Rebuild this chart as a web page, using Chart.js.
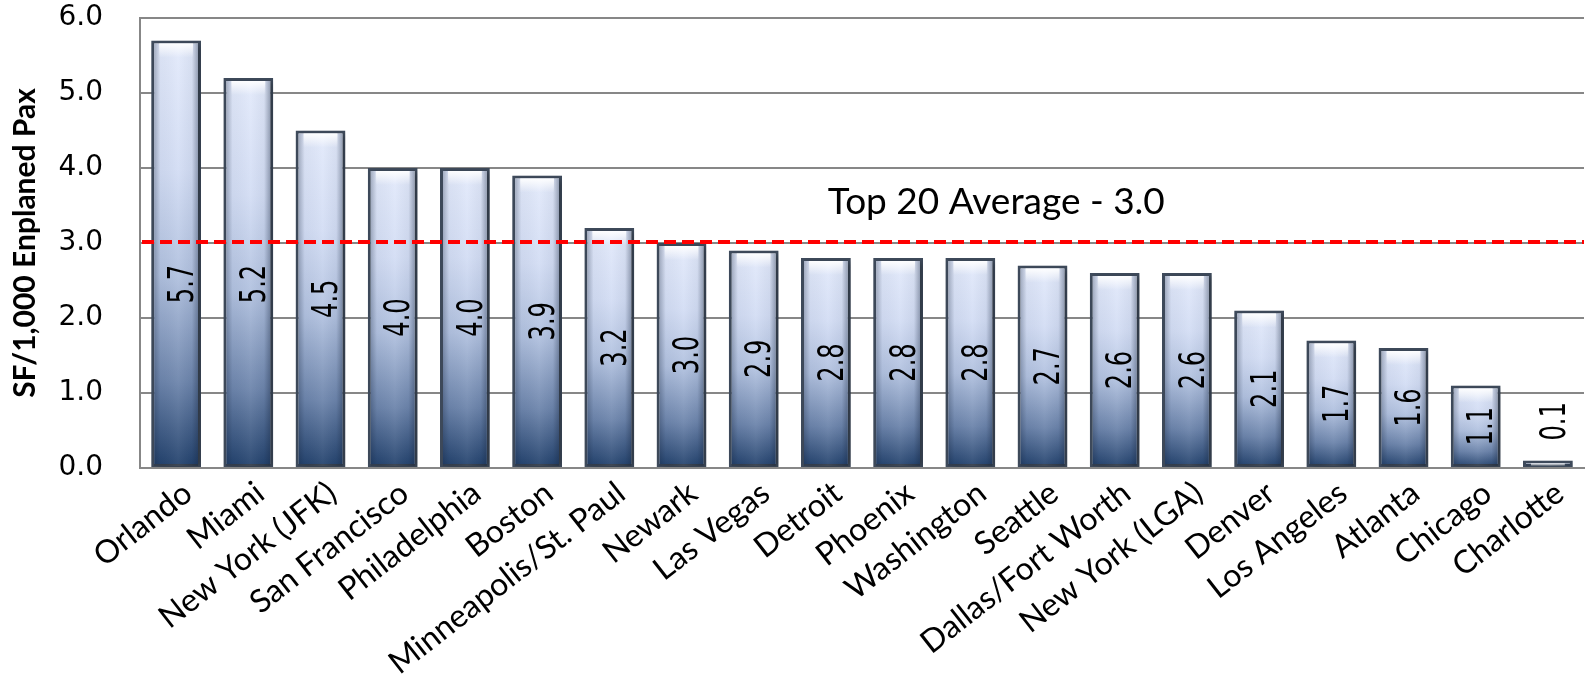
<!DOCTYPE html>
<html>
<head>
<meta charset="utf-8">
<title>Airport space per 1,000 enplaned passengers</title>
<script src="https://cdn.jsdelivr.net/npm/chart.js@4.4.1/dist/chart.umd.min.js"></script>
<style>
  html, body { margin: 0; padding: 0; background: #ffffff; }
  #wrap { width: 1585px; height: 694px; position: relative; }
  canvas { display: block; }
</style>
</head>
<body>
<div id="wrap"><canvas id="chart" width="1585" height="694"></canvas></div>
<script>
// Airports, ranked by square feet per 1,000 enplaned passengers
const airports = [
  'Orlando', 'Miami', 'New York (JFK)', 'San Francisco', 'Philadelphia',
  'Boston', 'Minneapolis/St. Paul', 'Newark', 'Las Vegas', 'Detroit',
  'Phoenix', 'Washington', 'Seattle', 'Dallas/Fort Worth', 'New York (LGA)',
  'Denver', 'Los Angeles', 'Atlanta', 'Chicago', 'Charlotte'
];
const sfPerThousandPax = [
  5.7, 5.2, 4.5, 4.0, 4.0,
  3.9, 3.2, 3.0, 2.9, 2.8,
  2.8, 2.8, 2.7, 2.6, 2.6,
  2.1, 1.7, 1.6, 1.1, 0.1
];
const top20Average = 3.0;
const yTickValues = [0, 1, 2, 3, 4, 5, 6];

// Vertical body gradient for one bar, running from its top to the baseline
function barGradient(context) {
  const chart = context.chart;
  if (!chart.chartArea || !chart.scales.y) return '#a9bbda';
  const yScale = chart.scales.y;
  const top = yScale.getPixelForValue(context.raw);
  const base = yScale.getPixelForValue(0);
  const g = chart.ctx.createLinearGradient(0, top, 0, base);
  g.addColorStop(0.00, '#e3eafb');
  g.addColorStop(0.30, '#d3ddf4');
  g.addColorStop(0.55, '#b1c1df');
  g.addColorStop(0.80, '#6c84ab');
  g.addColorStop(1.00, '#21406b');
  return g;
}

// Soft drop shadow behind the bars
const barShadow = {
  id: 'barShadow',
  beforeDatasetsDraw(chart) {
    const ctx = chart.ctx;
    ctx.save();
    ctx.shadowColor = 'rgba(0,0,0,0.28)';
    ctx.shadowBlur = 6;
    ctx.shadowOffsetX = 3;
    ctx.shadowOffsetY = 2;
  },
  afterDatasetsDraw(chart) {
    chart.ctx.restore();
  }
};

// Rounded sheen: darker side edges plus a bright glow under the top edge
const barSheen = {
  id: 'barSheen',
  afterDatasetsDraw(chart) {
    const ctx = chart.ctx;
    const meta = chart.getDatasetMeta(0);
    meta.data.forEach((bar) => {
      const p = bar.getProps(['x', 'y', 'base', 'width'], true);
      const inset = 3;
      const left = p.x - p.width / 2 + inset;
      const right = p.x + p.width / 2 - inset;
      const top = p.y + inset;
      const bottom = p.base - 1;
      const w = right - left;
      const h = bottom - top;
      if (h <= 0) return;
      ctx.save();
      const side = ctx.createLinearGradient(left, 0, right, 0);
      side.addColorStop(0.00, 'rgba(20,35,60,0.30)');
      side.addColorStop(0.14, 'rgba(20,35,60,0.04)');
      side.addColorStop(0.55, 'rgba(255,255,255,0.06)');
      side.addColorStop(0.86, 'rgba(20,35,60,0.05)');
      side.addColorStop(1.00, 'rgba(20,35,60,0.36)');
      ctx.fillStyle = side;
      ctx.fillRect(left, top, w, h);
      const glowH = Math.min(14, h);
      const glow = ctx.createLinearGradient(0, top, 0, top + glowH);
      glow.addColorStop(0, 'rgba(255,255,255,0.95)');
      glow.addColorStop(1, 'rgba(255,255,255,0)');
      ctx.fillStyle = glow;
      ctx.fillRect(left + 5, top, w - 10, glowH);
      ctx.restore();
    });
  }
};

// Dashed average line with its caption, drawn over the bars
const averageLine = {
  id: 'averageLine',
  afterDatasetsDraw(chart) {
    const ctx = chart.ctx;
    const area = chart.chartArea;
    const yPx = chart.scales.y.getPixelForValue(top20Average) - 1;
    ctx.save();
    ctx.strokeStyle = '#ff0000';
    ctx.lineWidth = 4;
    ctx.setLineDash([12, 6]);
    ctx.beginPath();
    ctx.moveTo(area.left + 2, yPx);
    ctx.lineTo(area.right, yPx);
    ctx.stroke();
    ctx.setLineDash([]);
    ctx.fillStyle = '#000000';
    ctx.font = '37px Lato';
    ctx.textAlign = 'center';
    ctx.textBaseline = 'alphabetic';
    ctx.fillText('Top 20 Average - ' + top20Average.toFixed(1),
      area.left + area.width * 0.593, yPx - 28);
    ctx.restore();
  }
};

// Vertical value labels: centred in the bar, kept under the average line,
// and lifted above bars too short to hold them
const valueLabels = {
  id: 'valueLabels',
  afterDraw(chart) {
    const ctx = chart.ctx;
    const yScale = chart.scales.y;
    const lineY = yScale.getPixelForValue(top20Average);
    const meta = chart.getDatasetMeta(0);
    const fontSize = 35;
    const squeeze = 0.69;
    ctx.save();
    ctx.font = fontSize + 'px "DejaVu Sans"';
    ctx.fillStyle = '#000000';
    ctx.textAlign = 'center';
    ctx.textBaseline = 'alphabetic';
    meta.data.forEach((bar, i) => {
      const value = sfPerThousandPax[i];
      const text = value.toFixed(1);
      const p = bar.getProps(['x', 'y', 'base'], true);
      const len = ctx.measureText(text).width * squeeze;
      let cy = (p.y + p.base) / 2;
      if (value > top20Average) cy = Math.max(cy, lineY + 41);
      if (p.base - p.y < len + 12) cy = p.y - 20 - len / 2;
      const digitH = fontSize * 0.729;
      ctx.save();
      ctx.translate(p.x + 4, cy);
      ctx.rotate(-Math.PI / 2);
      ctx.scale(squeeze, 1);
      ctx.fillText(text, 0, digitH / 2);
      ctx.restore();
    });
    ctx.restore();
  }
};

new Chart(document.getElementById('chart'), {
  type: 'bar',
  data: {
    labels: airports,
    datasets: [{
      label: 'SF/1,000 Enplaned Pax',
      data: sfPerThousandPax,
      backgroundColor: barGradient,
      borderColor: '#3e4a5b',
      borderWidth: 3,
      borderSkipped: false,
      barPercentage: 0.69,
      categoryPercentage: 1.0
    }]
  },
  options: {
    responsive: false,
    animation: false,
    devicePixelRatio: 1,
    layout: { padding: { top: 18, right: 1, left: 0, bottom: 0 } },
    plugins: {
      legend: { display: false },
      tooltip: { enabled: false }
    },
    scales: {
      x: {
        grid: { display: false, drawTicks: false },
        border: { display: true, color: '#878787', width: 2 },
        ticks: {
          color: '#000000',
          font: { family: 'Lato', size: 32 },
          minRotation: 38,
          maxRotation: 38,
          autoSkip: false,
          padding: 6,
          showLabelBackdrop: true,
          backdropColor: 'rgba(255,255,255,0)'
        },
        afterFit(scale) {
          scale.height = 226;
          scale.paddingLeft = 0;
          scale.paddingRight = 0;
        }
      },
      y: {
        min: 0,
        max: 6,
        afterBuildTicks(scale) {
          scale.ticks = yTickValues.map((v) => ({ value: v }));
        },
        ticks: {
          color: '#000000',
          font: { family: 'DejaVu Sans', size: 28 },
          padding: 37,
          callback: (v) => Number(v).toFixed(1)
        },
        grid: { color: '#878787', lineWidth: 2, drawTicks: false },
        border: { display: true, color: '#878787', width: 2 },
        title: {
          display: true,
          text: 'SF/1,000 Enplaned Pax',
          color: '#000000',
          font: { family: 'Lato', size: 30, weight: 'bold' },
          padding: { top: 7, bottom: 0 }
        },
        afterFit(scale) {
          scale.width = 140;
          scale.paddingTop = 0;
          scale.paddingBottom = 0;
        }
      }
    }
  },
  plugins: [barShadow, barSheen, averageLine, valueLabels]
});
</script>
</body>
</html>
